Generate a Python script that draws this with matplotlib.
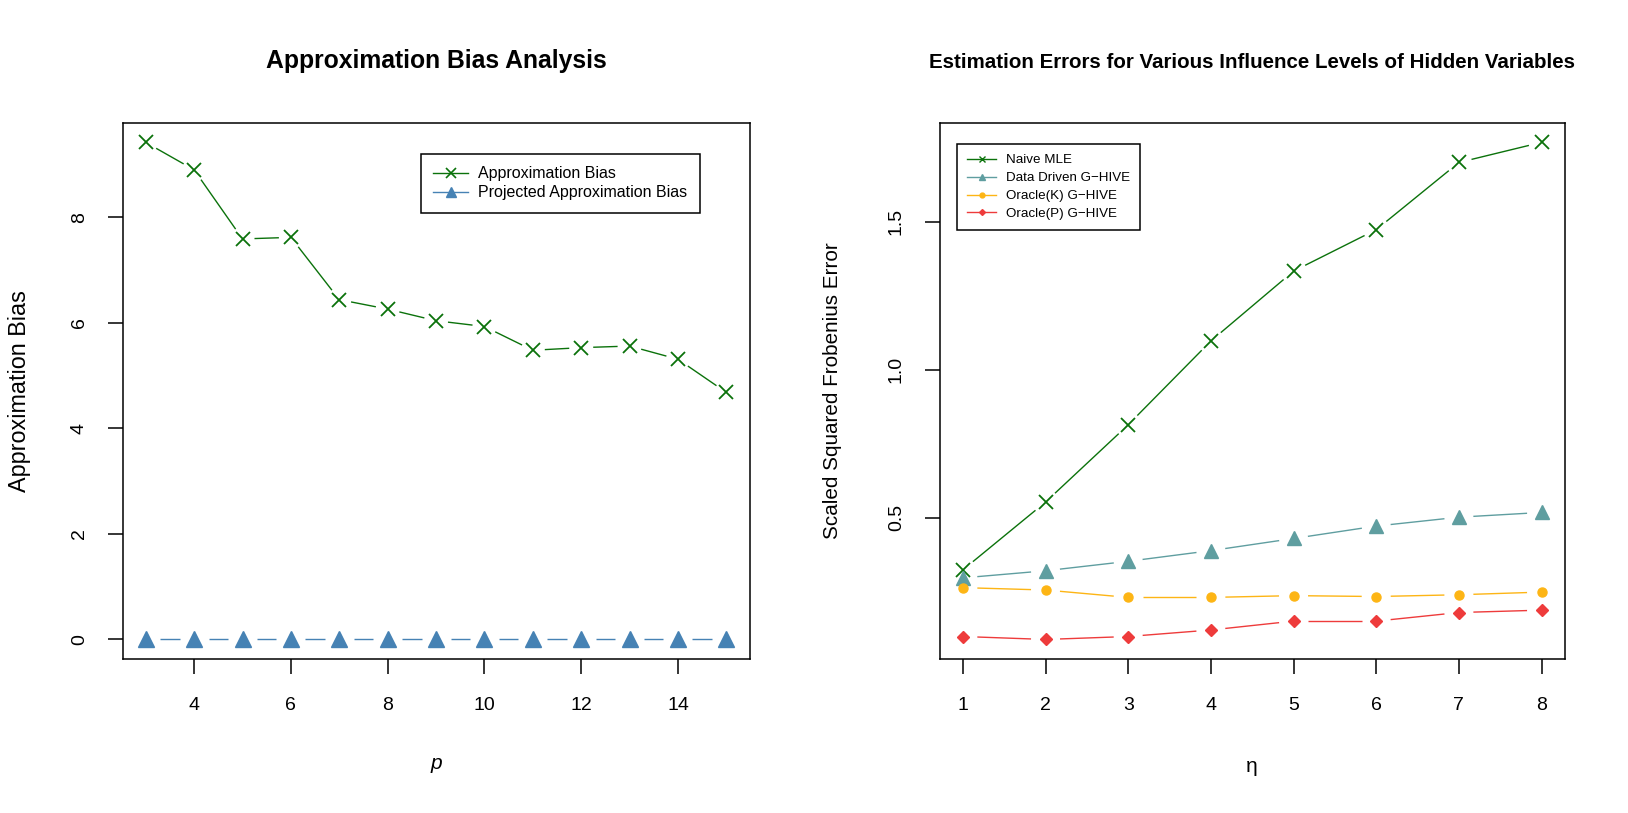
import numpy as np
import matplotlib
matplotlib.use("Agg")
import matplotlib.pyplot as plt
from matplotlib.lines import Line2D

plt.rcParams['font.family'] = ['Liberation Sans', 'DejaVu Sans']

# left panel data
p_vals = [3, 4, 5, 6, 7, 8, 9, 10, 11, 12, 13, 14, 15]
approx_bias = [9.42, 8.90, 7.59, 7.62, 6.44, 6.26, 6.04, 5.93, 5.48, 5.53, 5.56, 5.31, 4.68]
proj_bias = [0.0, 0.0, 0.0, 0.0, 0.0, 0.0, 0.0, 0.0, 0.0, 0.0, 0.0, 0.0, 0.0]

# right panel data
eta = [1, 2, 3, 4, 5, 6, 7, 8]
naive_mle = [0.324, 0.553, 0.814, 1.097, 1.333, 1.473, 1.700, 1.768]
data_driven = [0.297, 0.321, 0.353, 0.389, 0.430, 0.472, 0.502, 0.518]
oracle_k = [0.264, 0.256, 0.231, 0.231, 0.237, 0.234, 0.240, 0.249]
oracle_p = [0.099, 0.089, 0.099, 0.121, 0.151, 0.151, 0.180, 0.188]

W, H = 1628, 813
fig = plt.figure(figsize=(W / 100, H / 100), dpi=100)

GREEN = '#0b720b'
STEEL = '#4682B4'
CADET = '#5F9EA0'
GOLD = '#FDB515'
RED = '#EE3B3B'


def b_line(ax, x, y, color, gap, lw=1.0):
    # R type="b": segments stop short of the points
    pts = ax.transData.transform(np.column_stack([x, y]))
    inv = ax.transData.inverted()
    for i in range(len(pts) - 1):
        p0, p1 = pts[i], pts[i + 1]
        d = p1 - p0
        L = np.hypot(*d)
        if L <= 2 * gap:
            continue
        u = d / L
        seg = inv.transform(np.array([p0 + u * gap, p1 - u * gap]))
        ax.plot(seg[:, 0], seg[:, 1], color=color, lw=lw, solid_capstyle='butt')


def r_style(ax):
    for s in ax.spines.values():
        s.set_linewidth(1.1)
    ax.tick_params(direction='out', length=11, width=1.1, labelsize=14)
    ax.tick_params(axis='x', pad=16)
    ax.tick_params(axis='y', pad=14)
    for lab in ax.get_yticklabels():
        lab.set_rotation(90)
        lab.set_va('center')


# ---- left panel ----
ax1 = fig.add_axes([122.5 / W, 1 - 659.3 / H, (749.6 - 122.5) / W, (659.3 - 122.5) / H])
ax1.set_xlim(2.52, 15.48)
ax1.set_ylim(-0.377, 9.797)
ax1.set_xticks([4, 6, 8, 10, 12, 14])
ax1.set_yticks([0, 2, 4, 6, 8])
r_style(ax1)

b_line(ax1, p_vals, approx_bias, GREEN, 12)
ax1.plot(p_vals, approx_bias, ls='none', marker='x', ms=10, mew=1.3, color=GREEN)
b_line(ax1, p_vals, proj_bias, STEEL, 14.5)
ax1.plot(p_vals, proj_bias, ls='none', marker='^', ms=11, color=STEEL)

h1 = [Line2D([], [], color=GREEN, marker='x', ms=7, mew=1.2, lw=1),
      Line2D([], [], color=STEEL, marker='^', ms=7, lw=1)]
ax1.legend(h1, ['Approximation Bias', 'Projected Approximation Bias'],
           loc='upper left', bbox_to_anchor=(420.5 / W, 1 - 153.7 / H),
           bbox_transform=fig.transFigure, fontsize=11.5, frameon=True, fancybox=False,
           edgecolor='black', framealpha=1, handlelength=2.2, handletextpad=0.6,
           borderpad=0.8, labelspacing=0.25, borderaxespad=0)
ax1.get_legend().get_frame().set_linewidth(1.1)

fig.text(436 / W, 1 - 61 / H, 'Approximation Bias Analysis', ha='center', va='center',
         fontsize=17.8, fontweight='bold')
fig.text(436 / W, 1 - 763 / H, 'p', ha='center', va='center', fontsize=15, style='italic')
fig.text(20 / W, 1 - 391 / H, 'Approximation Bias', ha='center', va='center',
         fontsize=16.8, rotation=90)

# ---- right panel ----
ax2 = fig.add_axes([939.7 / W, 1 - 659.3 / H, (1564.7 - 939.7) / W, (659.3 - 122.5) / H])
ax2.set_xlim(0.72, 8.28)
ax2.set_ylim(0.022, 1.835)
ax2.set_xticks(eta)
ax2.set_yticks([0.5, 1.0, 1.5])
ax2.set_yticklabels(['0.5', '1.0', '1.5'])
r_style(ax2)

b_line(ax2, eta, naive_mle, GREEN, 13)
ax2.plot(eta, naive_mle, ls='none', marker='x', ms=9.5, mew=1.3, color=GREEN)
b_line(ax2, eta, data_driven, CADET, 14.5)
ax2.plot(eta, data_driven, ls='none', marker='^', ms=10, color=CADET)
b_line(ax2, eta, oracle_k, GOLD, 14.5)
ax2.plot(eta, oracle_k, ls='none', marker='o', ms=6.5, color=GOLD)
b_line(ax2, eta, oracle_p, RED, 14.5)
ax2.plot(eta, oracle_p, ls='none', marker='D', ms=6, color=RED)

h2 = [Line2D([], [], color=GREEN, marker='x', ms=5, mew=1, lw=1),
      Line2D([], [], color=CADET, marker='^', ms=5, lw=1),
      Line2D([], [], color=GOLD, marker='o', ms=3.5, lw=1),
      Line2D([], [], color=RED, marker='D', ms=3, lw=1)]
ax2.legend(h2, ['Naive MLE', 'Data Driven G\u2212HIVE', 'Oracle(K) G\u2212HIVE', 'Oracle(P) G\u2212HIVE'],
           loc='upper left', bbox_to_anchor=(957 / W, 1 - 144 / H),
           bbox_transform=fig.transFigure, fontsize=9.6, frameon=True, fancybox=False,
           edgecolor='black', framealpha=1, handlelength=2.2, handletextpad=0.7,
           borderpad=0.75, labelspacing=0.42, borderaxespad=0)
ax2.get_legend().get_frame().set_linewidth(1.1)

fig.text(1252 / W, 1 - 62 / H,
         'Estimation Errors for Various Influence Levels of Hidden Variables',
         ha='center', va='center', fontsize=14.8, fontweight='bold')
fig.text(1252 / W, 1 - 766 / H, '\u03b7', ha='center', va='center', fontsize=15)
fig.text(833 / W, 1 - 391 / H, 'Scaled Squared Frobenius Error', ha='center', va='center',
         fontsize=14.9, rotation=90)

fig.savefig('out.png', dpi=100, facecolor='white')
